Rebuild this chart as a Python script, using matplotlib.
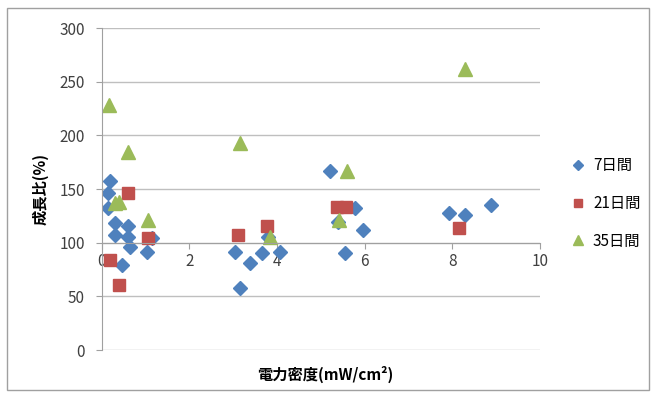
import matplotlib
matplotlib.use('Agg')
import matplotlib.pyplot as plt
from matplotlib.patches import Rectangle

plt.rcParams['font.family'] = ['Noto Sans CJK JP', 'DejaVu Sans']

# 7日間
d7_x = [0.18, 0.14, 0.14, 0.30, 0.60, 0.30, 0.60, 0.64, 1.03, 1.14, 0.46,
        3.04, 3.39, 3.66, 4.08, 3.16, 3.80, 5.20, 5.40, 5.79, 5.97, 5.56,
        7.92, 8.30, 8.88]
d7_y = [158, 146, 132, 118, 116, 107, 105, 96, 91, 104, 79,
        91, 81, 90, 91, 58, 105, 167, 119, 132, 112, 90,
        128, 126, 135]
# 21日間
d21_x = [0.60, 0.18, 0.39, 1.05, 3.10, 3.78, 5.38, 5.58, 8.15]
d21_y = [146, 84, 61, 104, 107, 116, 133, 133, 114]
# 35日間
d35_x = [0.16, 0.60, 0.30, 0.40, 1.05, 3.15, 3.84, 5.42, 5.60, 8.30]
d35_y = [228, 185, 137, 138, 121, 193, 105, 121, 167, 262]

fig = plt.figure(figsize=(6.56, 3.96), dpi=100)
ax = fig.add_axes([0.155, 0.116, 0.668, 0.813])

ax.plot(d7_x, d7_y, 'D', color='#4F81BD', markersize=7.5, label='7日間')
ax.plot(d21_x, d21_y, 's', color='#C0504D', markersize=8.5, label='21日間')
ax.plot(d35_x, d35_y, '^', color='#9BBB59', markersize=10, label='35日間')

ax.set_xlim(0, 10)
ax.set_ylim(0, 300)
ax.set_xticks([0, 2, 4, 6, 8, 10])
ax.set_yticks(range(0, 301, 50))
ax.grid(axis='y', color='#BFBFBF', linewidth=1)
ax.set_axisbelow(True)

ax.spines['top'].set_visible(False)
ax.spines['right'].set_visible(False)
ax.spines['bottom'].set_position(('data', 100))
ax.spines['bottom'].set_color('#A0A0A0')
ax.spines['left'].set_color('#A0A0A0')
ax.tick_params(colors='#A0A0A0', labelcolor='#404040', labelsize=11, length=4)
ax.tick_params(axis='y', pad=8)

ax.set_xlabel('電力密度(mW/cm²)', fontsize=11, fontweight='bold', labelpad=0)
ax.xaxis.set_label_coords(0.51, -0.05)
ax.set_ylabel('成長比(%)', fontsize=11, fontweight='bold', labelpad=8)

ax.legend(loc='center left', bbox_to_anchor=(1.02, 0.455), frameon=False,
          fontsize=11, handletextpad=0.0, labelspacing=1.35, markerscale=0.65)

fig.add_artist(Rectangle((0.011, 0.015), 0.978, 0.965, transform=fig.transFigure,
                         fill=False, edgecolor='#A0A0A0', linewidth=1))

fig.savefig('out.png', dpi=100)
